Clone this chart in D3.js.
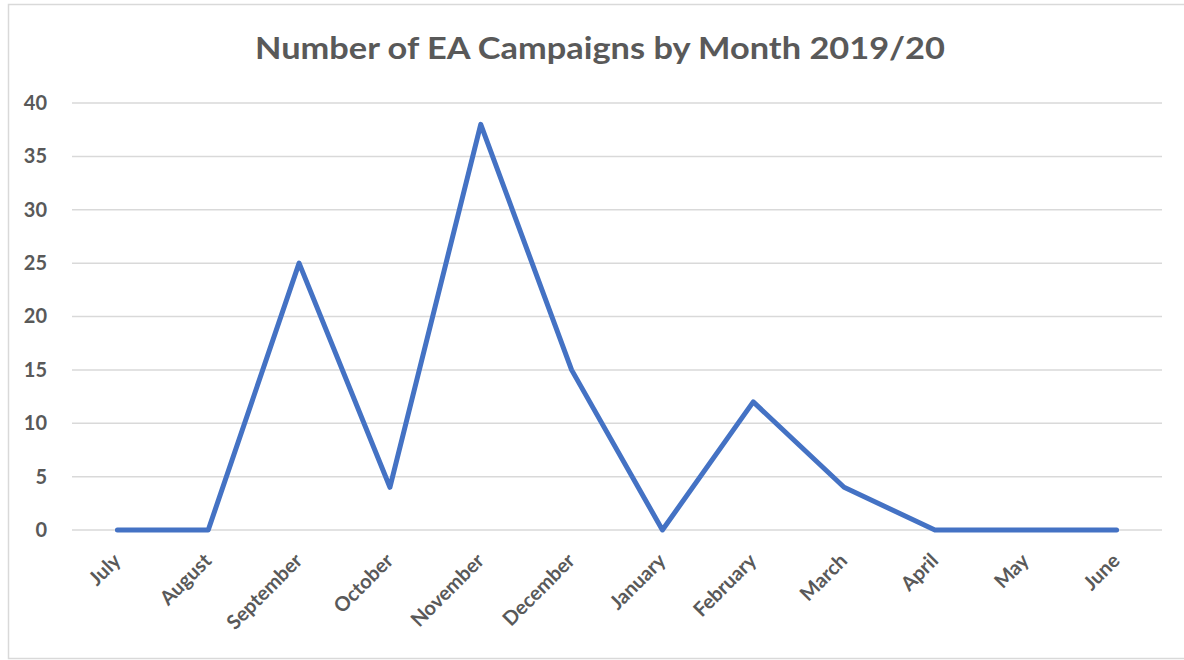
<!DOCTYPE html>
<html>
<head>
<meta charset="utf-8">
<script src="https://cdn.jsdelivr.net/npm/d3@7"></script>
<style>
  body { margin: 0; background: #fff; }
  text { font-family: Lato, "Open Sans", sans-serif; fill: #595959; }
</style>
</head>
<body>
<div id="chart"></div>
<script>
// data
const months = ["July", "August", "September", "October", "November", "December",
                "January", "February", "March", "April", "May", "June"];
const campaigns = [0, 0, 25, 4, 38, 15, 0, 12, 4, 0, 0, 0];
const yTicks = [0, 5, 10, 15, 20, 25, 30, 35, 40];

const W = 1184, H = 660;
const margin = { top: 103, right: 22, bottom: 130, left: 72 };
const width = W - margin.left - margin.right;
const height = H - margin.top - margin.bottom; // 427

const svg = d3.select("#chart").append("svg")
    .attr("width", W)
    .attr("height", H);

// chart frame
svg.append("rect")
    .attr("x", 8.5).attr("y", 4.5)
    .attr("width", 1190).attr("height", 654)
    .attr("fill", "none")
    .attr("stroke", "#d9d9d9")
    .attr("stroke-width", 1.5);

svg.append("text")
    .attr("x", 600).attr("y", 59)
    .attr("text-anchor", "middle")
    .attr("font-size", 30)
    .attr("font-weight", "bold")
    .attr("textLength", 690)
    .attr("lengthAdjust", "spacingAndGlyphs")
    .text("Number of EA Campaigns by Month 2019/20");

const g = svg.append("g")
    .attr("transform", `translate(${margin.left},${margin.top})`);

const x = d3.scalePoint()
    .domain(months)
    .range([0, width])
    .padding(0.5);

const y = d3.scaleLinear()
    .domain([0, 40])
    .range([height, 0]);

// gridlines
g.append("g")
    .selectAll("line")
    .data(yTicks)
    .join("line")
    .attr("x1", 0).attr("x2", width)
    .attr("y1", d => y(d)).attr("y2", d => y(d))
    .attr("stroke", "#d9d9d9")
    .attr("stroke-width", 1.5);

// y axis labels
const yAxis = g.append("g")
    .call(d3.axisLeft(y).tickValues(yTicks).tickSize(0).tickPadding(25));
yAxis.select(".domain").remove();
yAxis.selectAll("text")
    .attr("font-size", 20)
    .attr("font-weight", "bold")
    .attr("fill", "#595959")
    .style("font-family", "Lato, sans-serif");

// x axis labels
const xAxis = g.append("g")
    .attr("transform", `translate(0,${height})`)
    .call(d3.axisBottom(x).tickSize(0).tickPadding(0));
xAxis.select(".domain").remove();
xAxis.selectAll("text")
    .attr("font-size", 20)
    .attr("font-weight", "bold")
    .attr("fill", "#595959")
    .style("font-family", "Lato, sans-serif")
    .attr("text-anchor", "end")
    .attr("dy", null)
    .attr("y", 0)
    .attr("transform", "translate(4,32) rotate(-45)");

// line
const line = d3.line()
    .x((d, i) => x(months[i]))
    .y(d => y(d));

g.append("path")
    .datum(campaigns)
    .attr("d", line)
    .attr("fill", "none")
    .attr("stroke", "#4472c4")
    .attr("stroke-width", 5)
    .attr("stroke-linejoin", "round")
    .attr("stroke-linecap", "round");
</script>
</body>
</html>
